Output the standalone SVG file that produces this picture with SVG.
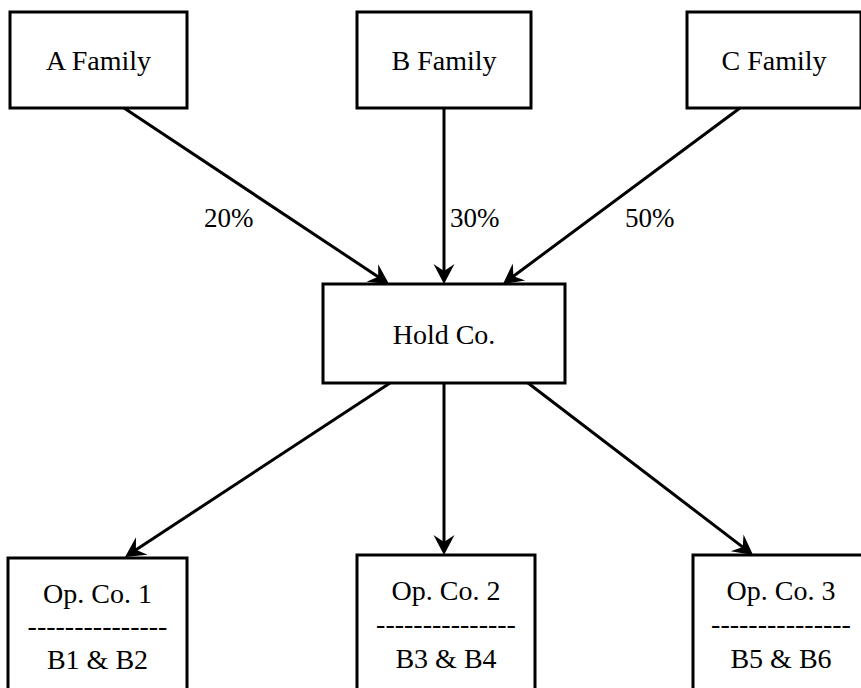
<svg xmlns="http://www.w3.org/2000/svg" width="861" height="688" viewBox="0 0 861 688">
  <style>
    .box { fill: #ffffff; stroke: #000000; stroke-width: 3; }
    .lbl { font-family: "Liberation Serif", serif; font-size: 28px; fill: #000000; text-anchor: middle; }
    .pct { font-family: "Liberation Serif", serif; font-size: 27px; fill: #000000; }
    .edge { fill: none; stroke: #000000; stroke-width: 3; marker-end: url(#head); }
  </style>
  <defs>
    <marker id="head" markerUnits="userSpaceOnUse" orient="auto" refX="0" refY="0" markerWidth="30" markerHeight="30" overflow="visible">
      <path d="M10,0 L-10,-10.5 L-3,0 L-10,10.5 Z" fill="#000000"/>
    </marker>
  </defs>
  <rect width="861" height="688" fill="#ffffff"/>

  <!-- owners -->
  <g id="a-family">
    <rect class="box" x="10" y="12" width="177" height="96"/>
    <text class="lbl" x="98.5" y="70">A Family</text>
  </g>
  <g id="b-family">
    <rect class="box" x="357" y="12" width="174" height="96"/>
    <text class="lbl" x="444" y="70">B Family</text>
  </g>
  <g id="c-family">
    <rect class="box" x="687" y="12" width="174" height="96"/>
    <text class="lbl" x="774" y="70">C Family</text>
  </g>

  <!-- holding company -->
  <g id="hold-co">
    <rect class="box" x="323" y="284" width="242" height="99"/>
    <text class="lbl" x="444" y="344">Hold Co.</text>
  </g>

  <!-- operating companies -->
  <g id="op-co-1">
    <rect class="box" x="8" y="558" width="179" height="140"/>
    <text class="lbl" x="97.5" y="603">Op. Co. 1</text>
    <text class="lbl" x="97.5" y="635">---------------</text>
    <text class="lbl" x="97.5" y="669">B1 &amp; B2</text>
  </g>
  <g id="op-co-2">
    <rect class="box" x="357" y="555" width="178" height="140"/>
    <text class="lbl" x="446" y="600">Op. Co. 2</text>
    <text class="lbl" x="446" y="633">---------------</text>
    <text class="lbl" x="446" y="668">B3 &amp; B4</text>
  </g>
  <g id="op-co-3">
    <rect class="box" x="693" y="555" width="176" height="140"/>
    <text class="lbl" x="781" y="600">Op. Co. 3</text>
    <text class="lbl" x="781" y="633">---------------</text>
    <text class="lbl" x="781" y="668">B5 &amp; B6</text>
  </g>

  <!-- ownership links -->
  <g id="connectors">
    <path class="edge" d="M124,108 L380.7,278.5"/>
    <path class="edge" d="M444,108 L444,274"/>
    <path class="edge" d="M740,108 L511,278"/>
    <path class="edge" d="M390,383 L133.4,551.5"/>
    <path class="edge" d="M444,383 L444,545"/>
    <path class="edge" d="M528,383 L745.1,548.9"/>
    <text class="pct" x="204" y="227">20%</text>
    <text class="pct" x="450" y="227">30%</text>
    <text class="pct" x="625" y="227">50%</text>
  </g>
</svg>
